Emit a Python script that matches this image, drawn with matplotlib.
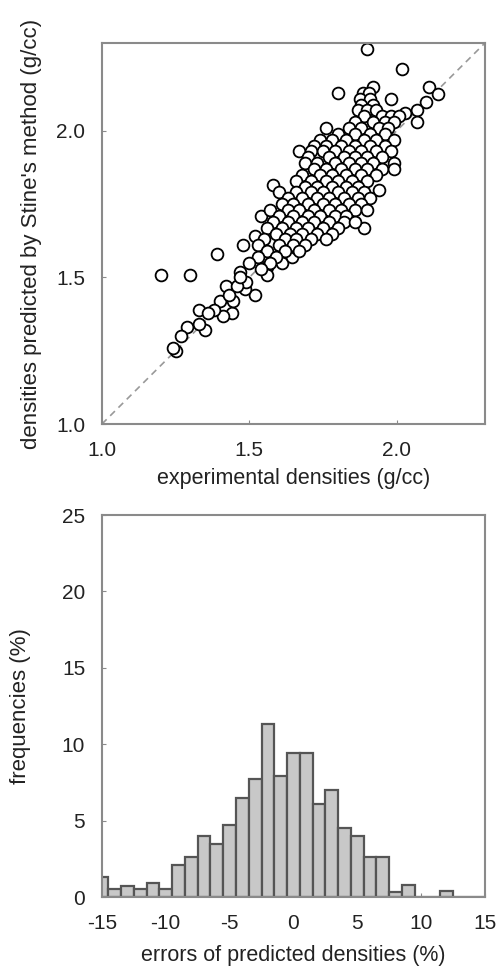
import matplotlib
matplotlib.use("Agg")
import matplotlib.pyplot as plt
import numpy as np

plt.rcParams['font.family'] = ['Liberation Sans', 'DejaVu Sans']
plt.rcParams['axes.unicode_minus'] = False

# ---- scatter data: (experimental, predicted) densities, g/cc, read row by row ----
outlier_x = [1.90, 2.02, 1.92, 1.80, 1.98, 2.11, 2.14, 2.10, 2.07, 2.03, 2.07,
             1.20, 1.30, 1.39, 1.89, 1.94, 1.58, 1.54, 1.52, 1.485, 1.49, 1.47,
             1.48, 1.52, 1.56, 1.56, 1.61, 1.645, 1.66]
outlier_y = [2.28, 2.21, 2.15, 2.13, 2.11, 2.15, 2.125, 2.10, 2.07, 2.06, 2.03,
             1.51, 1.51, 1.58, 1.67, 1.80, 1.815, 1.71, 1.44, 1.46, 1.485, 1.52,
             1.61, 1.64, 1.535, 1.51, 1.55, 1.57, 1.60]

low_x = [1.42, 1.44, 1.41, 1.445, 1.40, 1.38, 1.33, 1.36, 1.35, 1.33, 1.29,
         1.27, 1.25, 1.24, 1.43, 1.46, 1.47]
low_y = [1.47, 1.38, 1.37, 1.42, 1.42, 1.39, 1.39, 1.38, 1.32, 1.34, 1.33,
         1.30, 1.25, 1.26, 1.44, 1.47, 1.50]

cluster_rows = {
    2.13: [1.885, 1.905],
    2.11: [1.875, 1.91],
    2.09: [1.88, 1.92],
    2.07: [1.87, 1.90, 1.93],
    2.05: [1.89, 1.95, 1.98, 2.01],
    2.03: [1.86, 1.92, 1.96, 1.99],
    2.01: [1.76, 1.84, 1.88, 1.94, 1.97],
    1.99: [1.80, 1.86, 1.91, 1.96],
    1.97: [1.74, 1.78, 1.83, 1.89, 1.93, 1.99],
    1.95: [1.72, 1.76, 1.81, 1.86, 1.91, 1.96],
    1.93: [1.67, 1.71, 1.75, 1.79, 1.84, 1.88, 1.93, 1.98],
    1.91: [1.70, 1.77, 1.82, 1.86, 1.90, 1.95],
    1.89: [1.69, 1.73, 1.79, 1.84, 1.88, 1.92, 1.99],
    1.87: [1.72, 1.76, 1.81, 1.86, 1.90, 1.95, 1.99],
    1.85: [1.68, 1.74, 1.78, 1.83, 1.88, 1.93],
    1.83: [1.66, 1.71, 1.76, 1.80, 1.85, 1.90],
    1.81: [1.69, 1.73, 1.78, 1.83, 1.87],
    1.79: [1.60, 1.66, 1.71, 1.75, 1.80, 1.85, 1.89],
    1.77: [1.63, 1.68, 1.73, 1.77, 1.82, 1.87, 1.91],
    1.75: [1.61, 1.65, 1.70, 1.75, 1.79, 1.84, 1.88],
    1.73: [1.57, 1.63, 1.67, 1.72, 1.77, 1.81, 1.86, 1.90],
    1.71: [1.60, 1.65, 1.70, 1.74, 1.79, 1.83],
    1.69: [1.58, 1.63, 1.68, 1.72, 1.77, 1.82, 1.86],
    1.67: [1.56, 1.61, 1.66, 1.70, 1.75, 1.80],
    1.65: [1.59, 1.64, 1.68, 1.73, 1.78],
    1.63: [1.55, 1.62, 1.66, 1.71, 1.76],
    1.61: [1.53, 1.60, 1.65, 1.69],
    1.59: [1.56, 1.62, 1.67],
    1.57: [1.53, 1.59],
    1.55: [1.50, 1.57],
    1.53: [1.54],
}

exp_density = list(outlier_x) + list(low_x)
pred_density = list(outlier_y) + list(low_y)
for yv, xs in cluster_rows.items():
    for xv in xs:
        exp_density.append(xv)
        pred_density.append(yv)

# ---- histogram data: error bins (%) and frequencies (%) ----
error_bins = [-15, -14, -13, -12, -11, -10, -9, -8, -7, -6, -5, -4, -3, -2, -1,
              0, 1, 2, 3, 4, 5, 6, 7, 8, 9, 10, 11, 12, 13, 14, 15]
frequencies = [1.3, 0.55, 0.7, 0.55, 0.9, 0.55, 2.1, 2.6, 4.0, 3.5, 4.7, 6.5, 7.7,
               11.35, 7.9, 9.4, 9.4, 6.1, 7.0, 4.5, 4.0, 2.6, 2.6, 0.35, 0.8, 0.0,
               0.0, 0.4, 0.0, 0.0, 0.0]

fig = plt.figure(figsize=(5.02, 9.71), dpi=100)
spine_c = '#8a8a8a'
text_c = '#222222'
lab_fs = 15.5
tick_fs = 15

ax1 = fig.add_axes([0.203, 0.5633, 0.763, 0.3924])
ax1.plot([1.0, 2.3], [1.0, 2.3], linestyle=(0, (4, 3)), color='#999999', lw=1.2, zorder=1)
ax1.scatter(exp_density, pred_density, s=72, facecolors='white', edgecolors='black',
            linewidths=1.3, zorder=2)
ax1.set_xlim(1.0, 2.3)
ax1.set_ylim(1.0, 2.3)
ax1.set_xticks([1.0, 1.5, 2.0])
ax1.set_yticks([1.0, 1.5, 2.0])
ax1.set_xticklabels(['1.0', '1.5', '2.0'])
ax1.set_yticklabels(['1.0', '1.5', '2.0'])
ax1.set_xlabel('experimental densities (g/cc)', fontsize=lab_fs, color=text_c, labelpad=6)
ax1.set_ylabel("densities predicted by Stine's method (g/cc)", fontsize=16,
               color=text_c, labelpad=10)

ax2 = fig.add_axes([0.203, 0.0762, 0.763, 0.3934])
ax2.bar(error_bins, frequencies, width=1.0, color='#c8c8c8', edgecolor='#555555',
        linewidth=1.6, zorder=2)
ax2.set_xlim(-15, 15)
ax2.set_ylim(0, 25)
ax2.set_xticks([-15, -10, -5, 0, 5, 10, 15])
ax2.set_yticks([0, 5, 10, 15, 20, 25])
ax2.set_xlabel('errors of predicted densities (%)', fontsize=lab_fs, color=text_c, labelpad=9)
ax2.set_ylabel('frequencies (%)', fontsize=16, color=text_c, labelpad=22)

for ax in (ax1, ax2):
    for sp in ax.spines.values():
        sp.set_color(spine_c)
        sp.set_linewidth(1.5)
    ax.tick_params(direction='in', length=3, color=spine_c, labelsize=tick_fs,
                   labelcolor=text_c, pad=12)

fig.savefig('out.png', dpi=100, facecolor='white')
